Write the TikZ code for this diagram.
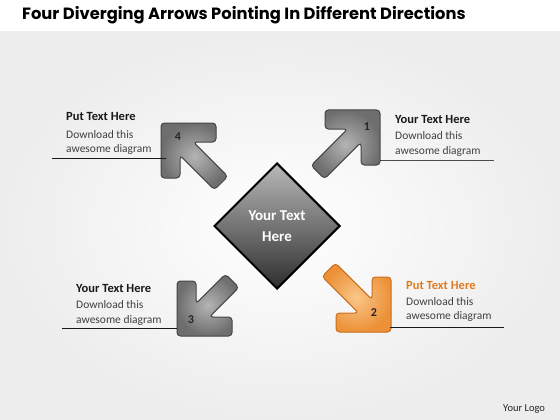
\documentclass[tikz,border=0pt]{standalone}
\usepackage{fontspec}
\setmainfont{Carlito}
\newfontfamily\titlefont{Poppins}
\usetikzlibrary{shapes.geometric}
\definecolor{agl}{HTML}{B4B4B4}
\definecolor{agd}{HTML}{6E6E6E}
\definecolor{aline}{HTML}{444444}
\definecolor{ol}{HTML}{FAC688}
\definecolor{od}{HTML}{EC9138}
\definecolor{oline}{HTML}{C96E1C}
\definecolor{otext}{HTML}{E07B22}
\definecolor{bodytext}{HTML}{404040}
\definecolor{bg}{HTML}{EDEDED}
\tikzset{
  chev/.pic={
    \pgfmathsetmacro{\c}{#1/sqrt(2)}
    \path[pic actions, rounded corners=3.5pt]
      (0,0) -- (-55,0) -- (-55,19) -- (-32.4,19)
      -- ({-\c-6.72},{\c-6.72}) -- ({-\c+6.72},{\c+6.72})
      -- (-19,32.4) -- (-19,55) -- (0,55) -- cycle;
  },
  grayarrow/.style={draw=aline, line width=1pt, inner color=agl, outer color=agd},
  orangearrow/.style={draw=oline, line width=1pt, inner color=ol, outer color=od},
  numlbl/.style={font=\bfseries\fontsize{12}{14}\selectfont, text=black!85, inner sep=0},
  headtxt/.style={anchor=base west, inner sep=0, font=\bfseries\fontsize{12.5}{15}\selectfont, text=black!90},
  bodytxt/.style={anchor=base west, inner sep=0, font=\fontsize{11.5}{14}\selectfont, text=bodytext},
  uline/.style={line width=1pt, draw=black!90},
}
\begin{document}
\begin{tikzpicture}[x=1pt,y=-1pt]
\useasboundingbox (0,0) rectangle (560,420);
\fill[white] (0,0) rectangle (560,420);
\path[inner color=white, outer color=bg] (0,32) rectangle (560,420);
\node[anchor=base west, inner sep=0, font=\titlefont\bfseries\fontsize{16.3}{19}\selectfont] (title) at (22,19.5) {Four Diverging Arrows Pointing In Different Directions};

% arrows
\pic[grayarrow] (a1) at (380,110) {chev=88};
\pic[grayarrow, xscale=-1] (a4) at (161,123) {chev=85};
\pic[grayarrow, xscale=-1, yscale=-1] (a3) at (177,336) {chev=78};
\pic[orangearrow, yscale=-1] (a2) at (391,332) {chev=88};

\node[numlbl] (n1) at (367,127) {1};
\node[numlbl] (n4) at (178,137) {4};
\node[numlbl] (n3) at (191,320) {3};
\node[numlbl] (n2) at (374,313) {2};

% hub
\node[diamond, aspect=1, minimum width=126pt, minimum height=126pt, inner sep=0,
  draw=black, line width=2pt, top color=gray!55, bottom color=black!82,
  font=\bfseries\fontsize{15}{21}\selectfont, text=white, align=center] (hub) at (277,226) {Your Text\\Here};

% text block 4 (top-left)
\node[headtxt] (h4) at (66,121) {Put Text Here};
\node[bodytxt] (b4a) at (66,138) {Download this};
\node[bodytxt] (b4b) at (66,152.5) {awesome diagram};
\coordinate (l4a) at (52,158.5);
\coordinate (l4b) at (166,158.5);
\draw[uline] (l4a) -- (l4b);

% text block 1 (top-right)
\node[headtxt] (h1) at (395,124) {Your Text Here};
\node[bodytxt] (b1a) at (395,139.5) {Download this};
\node[bodytxt] (b1b) at (395,154) {awesome diagram};
\coordinate (l1a) at (380,160.5);
\coordinate (l1b) at (494,160.5);
\draw[uline, draw=black!70] (l1a) -- (l1b);

% text block 3 (bottom-left)
\node[headtxt] (h3) at (76,292) {Your Text Here};
\node[bodytxt] (b3a) at (76,308) {Download this};
\node[bodytxt] (b3b) at (76,323) {awesome diagram};
\coordinate (l3a) at (62,328.5);
\coordinate (l3b) at (177,328.5);
\draw[uline] (l3a) -- (l3b);

% text block 2 (bottom-right)
\node[headtxt, text=otext] (h2) at (406,289) {Put Text Here};
\node[bodytxt] (b2a) at (406,305) {Download this};
\node[bodytxt] (b2b) at (406,319.5) {awesome diagram};
\coordinate (l2a) at (390,327);
\coordinate (l2b) at (504,327);
\draw[uline] (l2a) -- (l2b);

\node[anchor=base west, inner sep=0, font=\fontsize{10.5}{12}\selectfont, text=black!85] (logo) at (503,411) {Your Logo};
\end{tikzpicture}
\end{document}
